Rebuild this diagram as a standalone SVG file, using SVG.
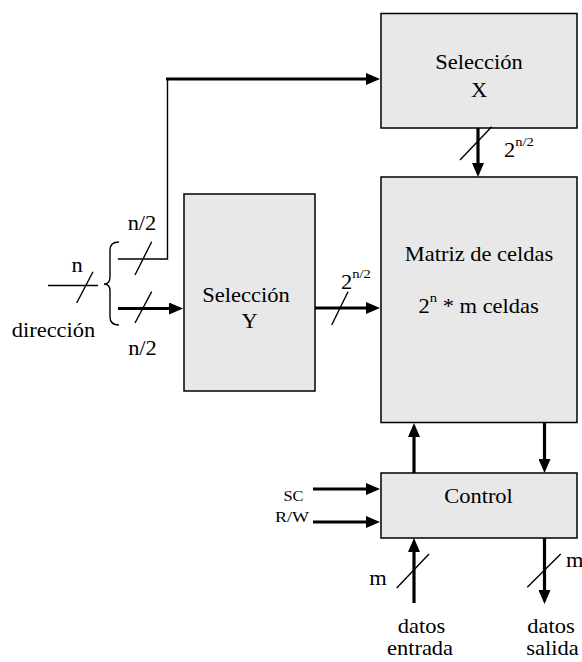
<svg xmlns="http://www.w3.org/2000/svg" width="582" height="662" viewBox="0 0 582 662">
  <style>
    .box { fill: #e8e8e8; stroke: #000; stroke-width: 1.5; }
    .lbl { font-family: "Liberation Serif", "Times New Roman", serif; font-size: 20px; fill: #000; }
    .sm { font-family: "Liberation Serif", "Times New Roman", serif; font-size: 14px; fill: #000; }
    .sup { font-size: 13px; }
    .mid { text-anchor: middle; }
    .bus { fill: none; stroke: #000; stroke-width: 3.2; }
    .wire { fill: none; stroke: #000; stroke-width: 1.4; }
    .slash { fill: none; stroke: #000; stroke-width: 1.4; }
  </style>
  <defs>
    <marker id="arrow" viewBox="0 0 14 12" markerWidth="14" markerHeight="12" refX="8" refY="6" orient="auto" markerUnits="userSpaceOnUse">
      <path d="M0,0 L14,6 L0,12 Z" fill="#000"/>
    </marker>
  </defs>

  <!-- blocks (text is drawn slightly wide: scale 1.125 horizontally) -->
  <g id="seleccion-x">
    <rect class="box" x="381" y="13.5" width="196" height="114.5"/>
    <text class="lbl mid" transform="translate(479,69) scale(1.125,1)">Selección</text>
    <text class="lbl mid" transform="translate(479,97) scale(1.125,1)">X</text>
  </g>

  <g id="seleccion-y">
    <rect class="box" x="184" y="194" width="131" height="197"/>
    <text class="lbl mid" transform="translate(246,302) scale(1.125,1)">Selección</text>
    <text class="lbl mid" transform="translate(249.5,328) scale(1.125,1)">Y</text>
  </g>

  <g id="matriz">
    <rect class="box" x="381" y="177" width="196" height="245.5"/>
    <text class="lbl mid" transform="translate(479,261) scale(1.125,1)">Matriz de celdas</text>
    <text class="lbl" transform="translate(418.5,312.5) scale(1.125,1)">2<tspan class="sup" dy="-11">n</tspan><tspan dy="11"> * m celdas</tspan></text>
  </g>

  <g id="control">
    <rect class="box" x="381" y="473" width="196" height="65"/>
    <text class="lbl mid" transform="translate(478.5,503) scale(1.125,1)">Control</text>
  </g>

  <!-- connectors -->
  <g id="connectors">
    <!-- address input and split -->
    <path class="wire" d="M48,285.5 H98"/>
    <path class="wire" d="M119,242 Q110,242 110,250 V277 Q110,284 104,284 Q110,284 110,291 V317 Q110,325 119,325"/>
    <path class="wire" d="M118,259 H167.5 V79"/>
    <path class="bus" d="M166,79 H374" marker-end="url(#arrow)"/>
    <path class="bus" d="M118,308.5 H177" marker-end="url(#arrow)"/>

    <!-- decoders to matrix -->
    <path class="bus" d="M315,308 H374" marker-end="url(#arrow)"/>
    <path class="bus" d="M478,128 V171" marker-end="url(#arrow)"/>

    <!-- matrix and control -->
    <path class="bus" d="M414,473 V429" marker-end="url(#arrow)"/>
    <path class="bus" d="M544.5,423 V467" marker-end="url(#arrow)"/>

    <!-- control signals -->
    <path class="bus" d="M313,489 H374" marker-end="url(#arrow)"/>
    <path class="bus" d="M313,522 H374" marker-end="url(#arrow)"/>

    <!-- data in / out -->
    <path class="bus" d="M414,603 V544" marker-end="url(#arrow)"/>
    <path class="bus" d="M544.5,538 V598" marker-end="url(#arrow)"/>

    <!-- bus width marks -->
    <path class="slash" d="M76.7,303 L93,271.7"/>
    <path class="slash" d="M135,275 L151.7,241.7"/>
    <path class="slash" d="M135,323 L151.7,291.7"/>
    <path class="slash" d="M460,160 L491.7,126.7"/>
    <path class="slash" d="M331.7,325 L348,291.7"/>
    <path class="slash" d="M396.7,588 L429,554"/>
    <path class="slash" d="M527.3,587.3 L560.7,554"/>
  </g>

  <!-- labels -->
  <g id="labels">
    <text class="lbl mid" transform="translate(77,272) scale(1.125,1)">n</text>
    <text class="lbl mid" transform="translate(53.5,337) scale(1.125,1)">dirección</text>
    <text class="lbl mid" transform="translate(142,229.5) scale(1.125,1)">n/2</text>
    <text class="lbl mid" transform="translate(142.5,355) scale(1.125,1)">n/2</text>
    <text class="lbl" transform="translate(504,157) scale(1.125,1)">2<tspan class="sup" dy="-11">n/2</tspan></text>
    <text class="lbl" transform="translate(341,289) scale(1.125,1)">2<tspan class="sup" dy="-11">n/2</tspan></text>
    <text class="sm mid" transform="translate(293.5,501) scale(1.17,1)">SC</text>
    <text class="sm mid" transform="translate(292,522) scale(1.29,1)">R/W</text>
    <text class="lbl mid" transform="translate(378,585) scale(1.125,1)">m</text>
    <text class="lbl" transform="translate(566,567) scale(1.125,1)">m</text>
    <text class="lbl mid" transform="translate(421.5,633) scale(1.125,1)">datos</text>
    <text class="lbl mid" transform="translate(420,655) scale(1.125,1)">entrada</text>
    <text class="lbl mid" transform="translate(551,633) scale(1.125,1)">datos</text>
    <text class="lbl mid" transform="translate(552.5,655) scale(1.125,1)">salida</text>
  </g>
</svg>
